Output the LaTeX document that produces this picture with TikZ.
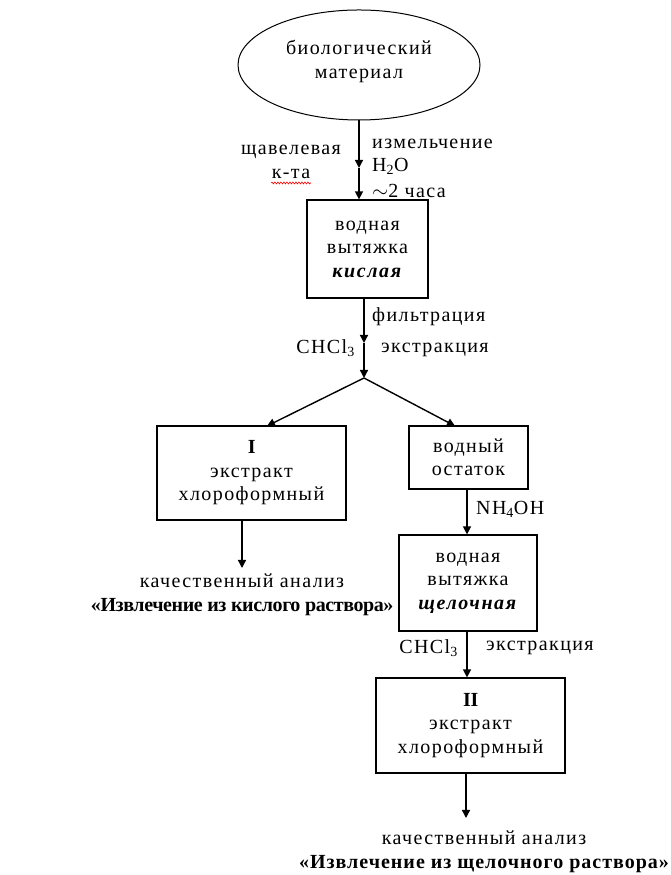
\documentclass[tikz,border=0pt]{standalone}
\usepackage{fontspec}
\setmainfont{Liberation Serif}[LetterSpace=7, BoldFeatures={LetterSpace=-2}, BoldItalicFeatures={LetterSpace=8}]
\newfontface\widebold{Liberation Serif Bold}[LetterSpace=5]
\usepackage{tikz}
\usetikzlibrary{shapes.geometric,arrows.meta,decorations.pathmorphing}

\tikzset{
	txt/.style={font=\fontsize{20}{23.5}\selectfont, inner sep=0pt},
	blk/.style={txt, draw, line width=1.2pt, align=center},
	arr/.style={line width=1.4pt, -{Triangle[length=8pt,width=8pt]}},
	ln/.style={line width=1.4pt}
}

\begin{document}
\begin{tikzpicture}[x=1pt,y=1pt]
	
	\useasboundingbox (0,0) rectangle (670,875);
	
	\node[blk, ellipse, line width=1pt, minimum width=242, minimum height=110] (bio) at (359,810) {биологический\\материал\\[-12pt]};
	\node[blk, minimum width=121, minimum height=98] (kisl) at (367.5,626) {водная\\вытяжка\\\textbf{\textit{кислая}}};
	\node[blk, minimum width=189, minimum height=94] (ext1) at (251.5,402) {\textbf{I}\\экстракт\\хлороформный};
	\node[blk, minimum width=119, minimum height=63] (ost) at (468.5,417.5) {водный\\остаток};
	\node[blk, minimum width=138, minimum height=96] (shch) at (468,292) {водная\\вытяжка\\\textbf{\textit{щелочная}}};
	\node[blk, minimum width=189, minimum height=95] (ext2) at (470.5,149.5) {\textbf{II}\\экстракт\\хлороформный};
	
	\node[txt, align=center] (res1) at (242,280) {качественный анализ\\\textbf{«Извлечение из кислого раствора»}};
	\node[txt, align=center] (res2) at (484,23) {качественный анализ\\{\widebold«Извлечение из щелочного раствора»}};
	
	\coordinate (m1) at (359,707);
	\coordinate (m2) at (364,532);
	\coordinate (fork) at (364,497);
	\coordinate (t1) at (267,449);
	\coordinate (t2) at (455,449);
	\coordinate (e1) at (242,307);
	\coordinate (e2) at (466,57);
	
	\draw[arr] (bio.south) -- (m1);
	\draw[arr] (m1) -- (bio.south |- kisl.north);
	\draw[arr] (kisl.south -| fork) -- (m2);
	\draw[arr] (m2) -- (fork);
	\draw[arr] (fork) -- (t1);
	\draw[arr] (fork) -- (t2);
	\draw[arr] (ext1.south -| e1) -- (e1);
	\draw[arr] (ost.south -| 467,0) -- (shch.north -| 467,0);
	\draw[arr] (shch.south -| 467,0) -- (ext2.north -| 467,0);
	\draw[arr] (ext2.south -| e2) -- (e2);
	
	% reagents
	\node[txt, align=center] (kta) at (291,713) {щавелевая\\к-та};
	\draw[red, line width=0.6pt, decorate, decoration={snake, amplitude=1pt, segment length=3pt}] (271,692) -- (311,692);
	\node[txt, align=left, anchor=west] (izm) at (372,707) {измельчение\\H\textsubscript{2}O\\[2pt]$\sim$2 часа};
	\node[txt, anchor=west] (filt) at (372,558) {фильтрация};
	\node[txt, anchor=east] (chl1) at (355,527) {CHCl\textsubscript{3}};
	\node[txt, anchor=west] (ex1) at (381,525) {экстракция};
	\node[txt, anchor=west] (nh) at (476,366) {NH\textsubscript{4}OH};
	\node[txt, anchor=east] (chl2) at (458,227) {CHCl\textsubscript{3}};
	\node[txt, anchor=west] (ex2) at (486,227) {экстракция};
	
\end{tikzpicture}
\end{document}
